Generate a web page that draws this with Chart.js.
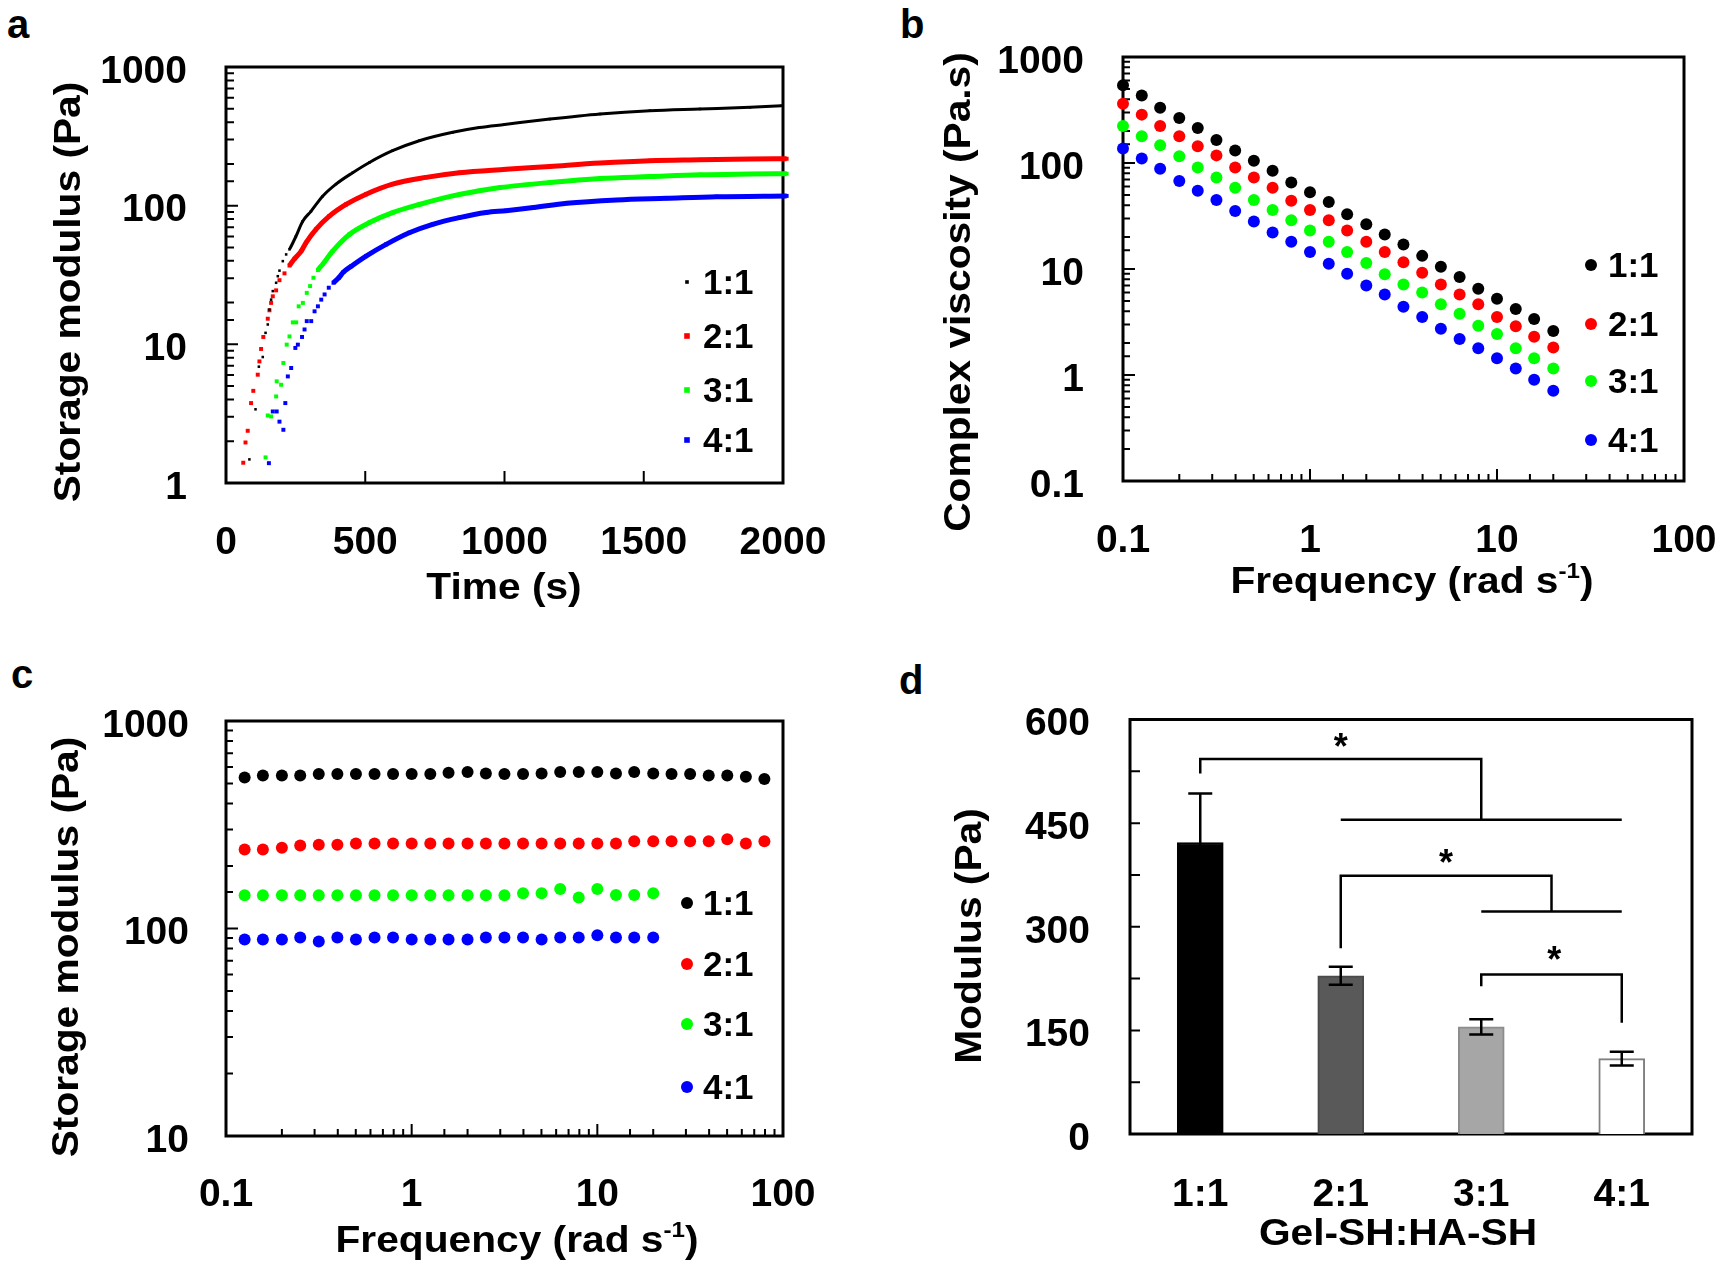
<!DOCTYPE html>
<html>
<head>
<meta charset="utf-8">
<script src="https://cdn.jsdelivr.net/npm/chart.js@4.4.1/dist/chart.umd.min.js"></script>
<style>
  body { margin: 0; background: #fff; width: 1726px; height: 1270px; position: relative; overflow: hidden; }
  canvas { position: absolute; }
  .tag { position: absolute; font: bold 40px/40px 'Liberation Sans', Arial, sans-serif; color: #000; }
</style>
</head>
<body>
<div class="tag" style="left:7px;top:4px">a</div>
<div class="tag" style="left:900px;top:4px">b</div>
<div class="tag" style="left:11px;top:654px">c</div>
<div class="tag" style="left:899px;top:660px">d</div>
<canvas id="chartA" width="863" height="635" style="left:0;top:0"></canvas>
<canvas id="chartB" width="863" height="635" style="left:863px;top:0"></canvas>
<canvas id="chartC" width="863" height="635" style="left:0;top:635px"></canvas>
<canvas id="chartD" width="863" height="635" style="left:863px;top:635px"></canvas>
<script>
// ---- data ----
const ratios = ['1:1', '2:1', '3:1', '4:1'];
const colors = ['#000000', '#ff0000', '#00ff00', '#0000ff'];

// a: storage modulus vs time
const timeA11 = [84, 106, 118, 132, 142, 150, 156, 162, 168, 180, 186, 192, 204, 216, 228, 251, 275, 305, 347, 395, 455, 515, 598, 694, 814, 909, 1000, 1163, 1343, 1522, 1702, 1882, 1995];
const gA11 = [1.48, 3.4, 6.9, 8.1, 12.1, 13.9, 17.8, 21, 24.2, 27.8, 31, 34, 39.8, 44.5, 48.4, 60, 77, 91, 117, 143, 173, 205, 249, 294, 338, 366, 385, 421, 458, 484, 498, 512, 526];
const timeA21 = [62, 70, 78, 90, 98, 114, 120, 126, 134, 150, 156, 162, 168, 180, 192, 210, 228, 246, 270, 287, 323, 371, 431, 503, 598, 718, 838, 1005, 1163, 1343, 1522, 1702, 1882, 2013];
const gA21 = [1.40, 1.96, 2.38, 3.77, 4.62, 6.04, 7.53, 9.26, 11.3, 15.3, 17.6, 19.9, 22.2, 24.5, 29, 32.5, 37, 41.4, 47, 54, 67.5, 84, 102, 121, 143, 160, 173, 183, 192, 203, 211, 214, 217, 218];
const timeA31 = [142, 150, 162, 180, 182, 198, 206, 218, 228, 240, 252, 261, 276, 290, 302, 314, 330, 348, 383, 443, 515, 598, 694, 814, 909, 984, 1163, 1343, 1522, 1702, 1882, 2013];
const gA31 = [1.53, 3.07, 3.02, 4.21, 5.41, 5.11, 7.34, 9.95, 11.4, 14.4, 14.4, 18.8, 19.9, 23.5, 26.3, 30.2, 34.3, 38, 47, 62, 75.5, 89, 102, 117.6, 128, 135, 147, 157, 162, 167, 169, 170];
const timeA41 = [154, 168, 182, 192, 206, 213, 222, 234, 249, 258, 273, 282, 290, 306, 318, 330, 342, 354, 369, 386, 405, 422, 450, 503, 575, 658, 742, 838, 934, 1005, 1104, 1223, 1403, 1582, 1762, 2013];
const gA41 = [1.39, 3.28, 3.28, 2.77, 2.42, 3.77, 5.87, 6.75, 9.42, 9.95, 11.3, 12.8, 14.7, 14.7, 17.3, 18.8, 21, 22.9, 25.6, 27.8, 30.2, 33.2, 36.6, 43.3, 52.6, 63.8, 73.4, 82, 89.2, 92, 96.9, 104, 110, 113, 116, 117.6];
// from this time on the dots sit so close they read as a line
const denseFromA = [228, 228, 330, 386];

// b: complex viscosity vs frequency
const freqB = [0.1, 0.126, 0.158, 0.2, 0.251, 0.316, 0.398, 0.501, 0.631, 0.794, 1, 1.26, 1.58, 2, 2.51, 3.16, 3.98, 5.01, 6.31, 7.94, 10, 12.6, 15.8, 20];
const etaB11 = [540, 433, 332, 266, 214, 165, 131, 105, 84.6, 65.5, 53, 42.9, 32.9, 26.4, 21.2, 17.0, 13.3, 10.5, 8.4, 6.5, 5.25, 4.2, 3.38, 2.6];
const etaB21 = [362, 286, 223, 179, 144, 118, 90.8, 72.8, 58.4, 44, 36, 28.8, 23.1, 18.1, 14.5, 11.6, 9.2, 7.15, 5.74, 4.64, 3.53, 2.88, 2.29, 1.82];
const etaB31 = [223, 179, 147, 116, 90.8, 72.8, 58.4, 44.8, 36, 28.8, 23.1, 18.1, 14.5, 11.4, 8.9, 7.15, 6.0, 4.64, 3.79, 2.91, 2.44, 1.79, 1.44, 1.15];
const etaB41 = [137, 110, 88.4, 67.8, 54.8, 44.8, 35.3, 28.1, 22.1, 18.1, 14.5, 11.2, 9.0, 7.0, 5.74, 4.41, 3.53, 2.73, 2.19, 1.79, 1.44, 1.15, 0.90, 0.71];

// c: storage modulus vs frequency
const freqC = [0.126, 0.158, 0.2, 0.251, 0.316, 0.398, 0.501, 0.631, 0.794, 1, 1.26, 1.58, 2, 2.51, 3.16, 3.98, 5.01, 6.31, 7.94, 10, 12.6, 15.8, 20, 25.1, 31.6, 39.8, 50.1, 63.1, 79.4];
const gC11 = [534, 546, 546, 546, 556, 556, 556, 556, 556, 556, 556, 563, 568, 558, 556, 556, 558, 568, 568, 568, 558, 568, 558, 556, 556, 546, 546, 538, 526];
const gC21 = [240, 240, 245, 251, 253, 253, 257, 257, 257, 257, 257, 257, 257, 257, 257, 257, 257, 257, 257, 257, 257, 263, 263, 263, 263, 263, 269, 257, 263];
const gC31 = [144.5, 144.5, 144.5, 144.5, 144.5, 144.5, 144.5, 144.5, 144.5, 144.5, 144.5, 144.5, 144.5, 144.5, 144.5, 148, 148, 155, 141, 155, 145, 145, 148];
const gC41 = [88.6, 88.6, 88.6, 90.6, 86.6, 90.6, 88.6, 90.6, 90.6, 88.6, 88.6, 88.6, 88.6, 90.6, 90.6, 90.6, 88.6, 90.6, 90.6, 92.7, 90.6, 90.6, 90.6];

// d: modulus bars
const modulusMean = [422, 229, 155, 109];
const modulusErr = [71, 13, 11, 10];
const barFills = ['#000000', '#595959', '#a6a6a6', '#ffffff'];
const barEdges = ['#000000', '#4a4a4a', '#8c8c8c', '#808080'];
// significance brackets, x = group index, y = Pa
const bracket1 = [{x: 0, y: 522}, {x: 0, y: 543}, {x: 2, y: 543}, {x: 2, y: 455}];
const bracket1Base = [{x: 1, y: 455}, {x: 3, y: 455}];
const bracket2 = [{x: 1, y: 269}, {x: 1, y: 374}, {x: 2.5, y: 374}, {x: 2.5, y: 322}];
const bracket2Base = [{x: 2, y: 322}, {x: 3, y: 322}];
const bracket3 = [{x: 2, y: 214}, {x: 2, y: 231}, {x: 3, y: 231}, {x: 3, y: 161}];
const stars = [{x: 1, y: 566}, {x: 1.75, y: 398}, {x: 2.52, y: 258}];

// ---- common look ----
const FONT = "'Liberation Sans', Arial, sans-serif";
Chart.defaults.font.family = FONT;
Chart.defaults.font.weight = 'bold';
Chart.defaults.font.size = 39;
Chart.defaults.color = '#000';
Chart.defaults.animation = false;
Chart.defaults.plugins.legend.display = false;
Chart.defaults.plugins.tooltip.enabled = false;

function isPow10(v) {
  const l = Math.log10(v);
  return Math.abs(l - Math.round(l)) < 1e-6;
}
function logLabel(v) {
  if (!isPow10(v)) return '';
  return v < 1 ? String(+v.toPrecision(1)) : String(Math.round(v));
}

function axis(extra, size, horizontal, pad) {
  return Object.assign({
    grid: {display: false, drawTicks: false},
    border: {display: false},
    ticks: {autoSkip: false, maxRotation: 0, padding: pad, labelOffset: horizontal ? 0 : 5},
    afterFit: s => {
      if (horizontal) {
        s.height = size;
        // keep the plot box where it is, labels may hang past it
        s.paddingLeft = 0;
        s.paddingRight = 0;
      } else {
        s.width = size;
        s.paddingTop = 0;
        s.paddingBottom = 0;
      }
    }
  }, extra);
}
function logAxis(min, max, size, horizontal, pad) {
  const a = axis({type: 'logarithmic', min: min, max: max}, size, horizontal, pad);
  a.ticks.callback = logLabel;
  return a;
}

// box + inward tick marks
const framePlugin = {
  id: 'frame',
  beforeDatasetsDraw(chart, args, opts) {
    const {ctx, chartArea: a} = chart;
    ctx.save();
    ctx.strokeStyle = '#000';
    ctx.lineWidth = 3;
    ctx.strokeRect(a.left, a.top, a.right - a.left, a.bottom - a.top);
    ctx.lineWidth = 2;
    ctx.beginPath();
    const xs = chart.scales.x, ys = chart.scales.y;
    if (opts.x) {
      xs.ticks.forEach(t => {
        const p = xs.getPixelForValue(t.value);
        if (p < a.left + 2 || p > a.right - 2) return;
        const len = opts.x === 'log' && !isPow10(t.value) ? opts.minor : opts.major;
        ctx.moveTo(p, a.bottom);
        ctx.lineTo(p, a.bottom - len);
      });
    }
    if (opts.y) {
      ys.ticks.forEach(t => {
        const p = ys.getPixelForValue(t.value);
        if (p < a.top + 2 || p > a.bottom - 2) return;
        const len = opts.y === 'log' && !isPow10(t.value) ? opts.minor : opts.major;
        ctx.moveTo(a.left, p);
        ctx.lineTo(a.left + len, p);
      });
    }
    ctx.stroke();
    ctx.restore();
  }
};

// axis titles (with superscript pieces)
const titlesPlugin = {
  id: 'titles',
  afterDraw(chart, args, opts) {
    if (!opts.items) return;
    const ctx = chart.ctx;
    const size = opts.size || 36;
    const big = `bold ${size}px ${FONT}`;
    const small = `bold ${Math.round(size * 0.6)}px ${FONT}`;
    opts.items.forEach(it => {
      ctx.save();
      ctx.translate(it.x, it.y);
      if (it.rotate) ctx.rotate(-Math.PI / 2);
      ctx.scale(opts.stretch || 1, 1);
      ctx.fillStyle = '#000';
      ctx.textBaseline = 'middle';
      let total = 0;
      it.parts.forEach(p => {
        ctx.font = p.sup ? small : big;
        p.w = ctx.measureText(p.t).width;
        total += p.w;
      });
      let x = -total / 2;
      it.parts.forEach(p => {
        ctx.font = p.sup ? small : big;
        ctx.fillText(p.t, x, p.sup ? -size * 0.3 : 0);
        x += p.w;
      });
      ctx.restore();
    });
  }
};

// legend drawn inside the plot
const insideLegend = {
  id: 'insideLegend',
  afterDatasetsDraw(chart, args, opts) {
    if (!opts.rows) return;
    const ctx = chart.ctx;
    ctx.save();
    chart.data.datasets.forEach((ds, i) => {
      if (i >= opts.rows.length) return;
      const y = opts.rows[i];
      ctx.fillStyle = ds.pointBackgroundColor;
      if (opts.marker === 'circle') {
        ctx.beginPath();
        ctx.arc(opts.markerX, y, ds.pointRadius, 0, Math.PI * 2);
        ctx.fill();
      } else {
        const r = ds.pointRadius;
        ctx.fillRect(opts.markerX - r, y - r, 2 * r, 2 * r);
      }
      ctx.fillStyle = '#000';
      ctx.font = `bold ${opts.size}px ${FONT}`;
      ctx.textBaseline = 'middle';
      ctx.fillText(ds.label, opts.textX, y + 2);
    });
    ctx.restore();
  }
};

Chart.register(framePlugin, titlesPlugin, insideLegend);

const freqTitle = [{t: 'Frequency (rad s'}, {t: '-1', sup: true}, {t: ')'}];

// ---- a ----
const timesA = [timeA11, timeA21, timeA31, timeA41];
const valuesA = [gA11, gA21, gA31, gA41];
const xA = axis({type: 'linear', min: 0, max: 2000}, 152, true, 37);
xA.ticks.stepSize = 500;
xA.ticks.callback = v => String(v);
new Chart(document.getElementById('chartA'), {
  type: 'scatter',
  data: {
    datasets: ratios.map((r, i) => ({
      label: r,
      data: timesA[i].map((t, k) => ({x: t, y: valuesA[i][k]})),
      showLine: true,
      borderColor: colors[i],
      borderWidth: i === 0 ? 3 : 5,
      cubicInterpolationMode: 'monotone',
      segment: {borderColor: c => c.p0.parsed.x < denseFromA[i] ? 'rgba(0,0,0,0)' : colors[i]},
      pointStyle: 'rect',
      pointRadius: i === 0 ? 1.8 : 2.8,
      pointBackgroundColor: colors[i],
      pointBorderWidth: 0,
      clip: false
    }))
  },
  options: {
    responsive: false,
    layout: {padding: {top: 67, right: 80, left: 0, bottom: 0}},
    scales: {
      x: xA,
      y: logAxis(1, 1000, 226, false, 39)
    },
    plugins: {
      frame: {x: 'lin', y: 'log', major: 12, minor: 8},
      titles: {size: 37, stretch: 1.1, items: [
        {parts: [{t: 'Storage modulus (Pa)'}], x: 70, y: 292, rotate: true},
        {parts: [{t: 'Time (s)'}], x: 504, y: 589}
      ]},
      insideLegend: {rows: [282, 336, 390, 440], markerX: 687, textX: 703, size: 35, marker: 'rect'}
    }
  }
});

// ---- b ----
const valuesB = [etaB11, etaB21, etaB31, etaB41];
new Chart(document.getElementById('chartB'), {
  type: 'scatter',
  data: {
    datasets: ratios.map((r, i) => ({
      label: r,
      data: freqB.map((f, k) => ({x: f, y: valuesB[i][k]})),
      pointRadius: 6,
      pointBackgroundColor: colors[i],
      pointBorderWidth: 0,
      clip: false
    }))
  },
  options: {
    responsive: false,
    layout: {padding: {top: 57, right: 42, left: 0, bottom: 0}},
    scales: {
      x: logAxis(0.1, 100, 154, true, 37),
      y: logAxis(0.1, 1000, 260, false, 39)
    },
    plugins: {
      frame: {x: 'log', y: 'log', major: 12, minor: 7},
      titles: {size: 37, stretch: 1.1, items: [
        {parts: [{t: 'Complex viscosity (Pa.s)'}], x: 97, y: 292, rotate: true},
        {parts: freqTitle, x: 549, y: 583}
      ]},
      insideLegend: {rows: [265, 324, 381, 440], markerX: 728, textX: 745, size: 35, marker: 'circle'}
    }
  }
});

// ---- c ----
const valuesC = [gC11, gC21, gC31, gC41];
new Chart(document.getElementById('chartC'), {
  type: 'scatter',
  data: {
    datasets: ratios.map((r, i) => ({
      label: r,
      data: valuesC[i].map((g, k) => ({x: freqC[k], y: g})),
      pointRadius: 6,
      pointBackgroundColor: colors[i],
      pointBorderWidth: 0,
      clip: false
    }))
  },
  options: {
    responsive: false,
    layout: {padding: {top: 86, right: 80, left: 0, bottom: 0}},
    scales: {
      x: logAxis(0.1, 100, 134, true, 36),
      y: logAxis(10, 1000, 226, false, 37)
    },
    plugins: {
      frame: {x: 'log', y: 'log', major: 12, minor: 7},
      titles: {size: 37, stretch: 1.1, items: [
        {parts: [{t: 'Storage modulus (Pa)'}], x: 68, y: 312, rotate: true},
        {parts: freqTitle, x: 517, y: 607}
      ]},
      insideLegend: {rows: [268, 329, 389, 452], markerX: 687, textX: 703, size: 35, marker: 'circle'}
    }
  }
});

// ---- d ----
const errorBars = {
  id: 'errorBars',
  afterDatasetsDraw(chart) {
    const {ctx, scales: {x, y}} = chart;
    ctx.save();
    ctx.strokeStyle = '#000';
    ctx.lineWidth = 2.5;
    ctx.beginPath();
    modulusMean.forEach((m, i) => {
      const px = x.getPixelForValue(i);
      const top = y.getPixelForValue(m + modulusErr[i]);
      const bot = y.getPixelForValue(m - modulusErr[i]);
      ctx.moveTo(px, top); ctx.lineTo(px, bot);
      ctx.moveTo(px - 12, top); ctx.lineTo(px + 12, top);
      ctx.moveTo(px - 12, bot); ctx.lineTo(px + 12, bot);
    });
    ctx.stroke();
    ctx.font = `bold 36px ${FONT}`;
    ctx.fillStyle = '#000';
    ctx.textAlign = 'center';
    ctx.textBaseline = 'middle';
    stars.forEach(s => ctx.fillText('*', x.getPixelForValue(s.x), y.getPixelForValue(s.y) + 6));
    ctx.restore();
  }
};

const xD = axis({
  type: 'linear', min: -0.5, max: 3.5, offset: false,
  afterBuildTicks: s => { s.ticks = ratios.map((r, i) => ({value: i})); }
}, 136, true, 38);
xD.ticks.callback = v => ratios[v] || '';
const yD = axis({min: 0, max: 600}, 267, false, 40);
yD.ticks.stepSize = 75;
yD.ticks.callback = v => (v % 150 === 0 ? String(v) : '');

const bracketSet = [bracket1, bracket1Base, bracket2, bracket2Base, bracket3];
new Chart(document.getElementById('chartD'), {
  type: 'bar',
  data: {
    datasets: [{
      type: 'bar',
      data: modulusMean.map((m, i) => ({x: i, y: m})),
      backgroundColor: barFills,
      borderColor: barEdges,
      borderWidth: 2,
      barThickness: 46,
      order: 2
    }].concat(bracketSet.map(b => ({
      type: 'line',
      data: b,
      borderColor: '#000',
      borderWidth: 2.5,
      pointRadius: 0,
      tension: 0,
      fill: false,
      order: 1
    })))
  },
  options: {
    responsive: false,
    layout: {padding: {top: 84.5, right: 34, left: 0, bottom: 0}},
    scales: {x: xD, y: yD},
    plugins: {
      frame: {y: 'lin', major: 10, minor: 10},
      titles: {size: 37, stretch: 1.1, items: [
        {parts: [{t: 'Modulus (Pa)'}], x: 108, y: 301, rotate: true},
        {parts: [{t: 'Gel-SH:HA-SH'}], x: 535, y: 600}
      ]}
    }
  },
  plugins: [errorBars]
});
</script>
</body>
</html>
